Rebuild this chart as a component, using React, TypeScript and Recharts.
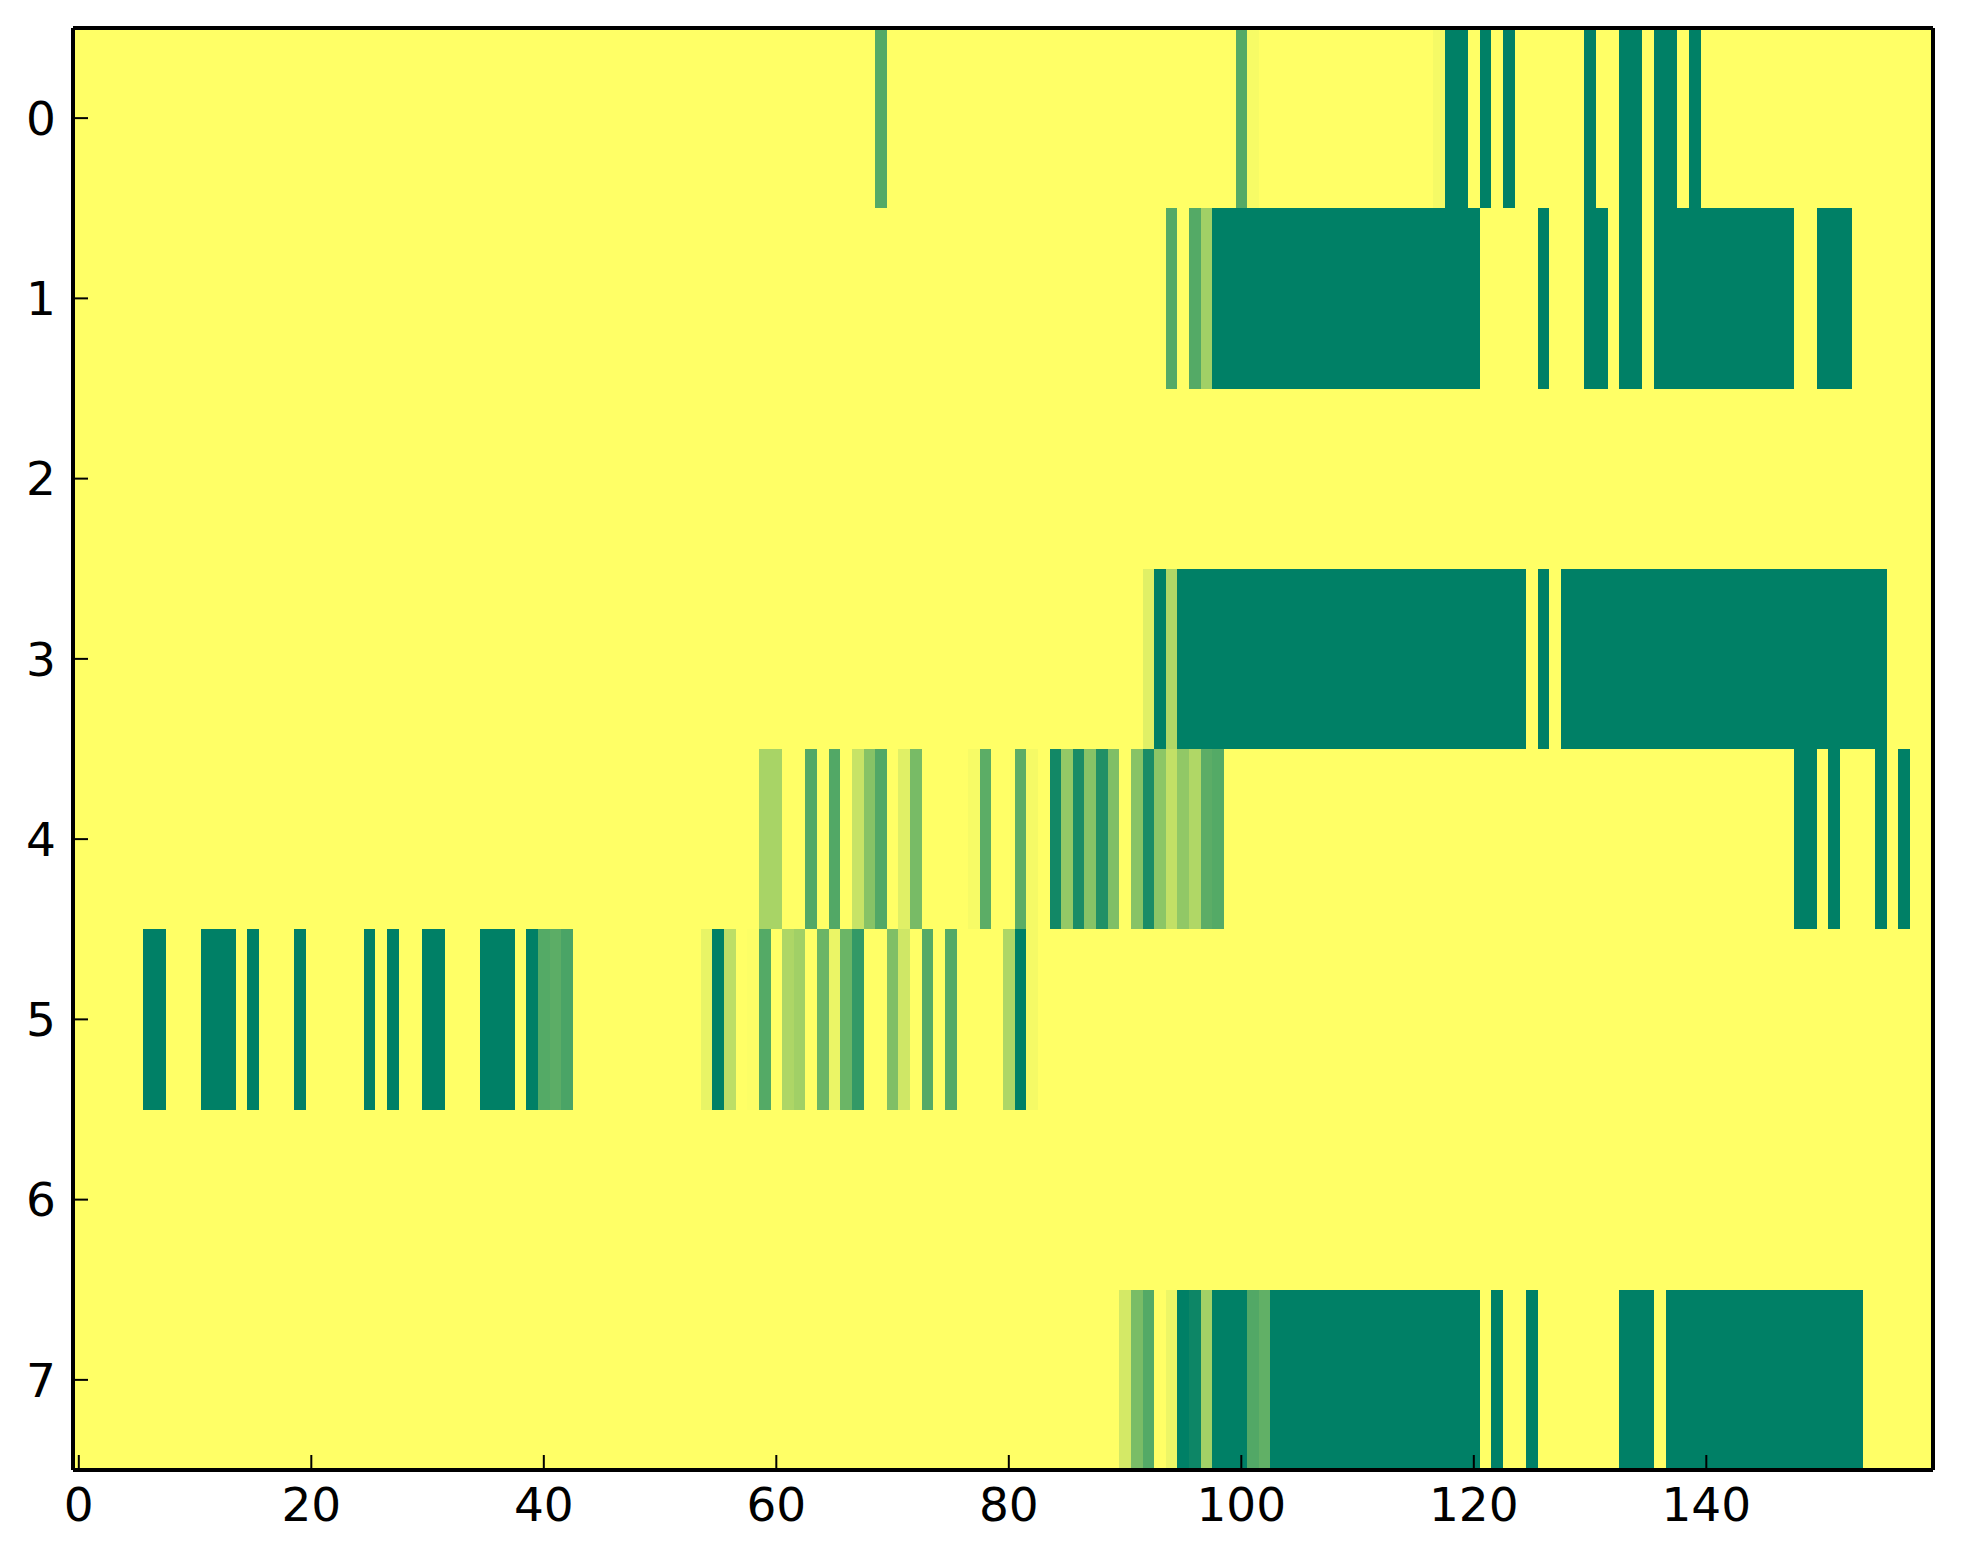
import React from 'react';
import {
  ReferenceArea,
  Scatter,
  ScatterChart,
  XAxis,
  YAxis,
} from 'recharts';

// runs of non-yellow cells per row: [firstColumn, lastColumn, value]
type Run = [number, number, number];

const columnCount = 160;
const rowCount = 8;
const xTicks = [0, 20, 40, 60, 80, 100, 120, 140];
const yTicks = [0, 1, 2, 3, 4, 5, 6, 7];

const row0: Run[] = [
  [69, 69, 0.33], [100, 100, 0.33], [101, 101, 0.97], [117, 117, 0.96],
  [118, 119, 0], [121, 121, 0], [123, 123, 0], [130, 130, 0],
  [133, 134, 0], [136, 137, 0], [139, 139, 0],
];
const row1: Run[] = [
  [94, 94, 0.33], [96, 96, 0.33], [97, 97, 0.63], [98, 120, 0],
  [126, 126, 0], [130, 131, 0], [133, 134, 0], [136, 147, 0], [150, 152, 0],
];
const row2: Run[] = [];
const row3: Run[] = [
  [92, 92, 0.88], [93, 93, 0], [94, 94, 0.69], [95, 124, 0],
  [126, 126, 0], [128, 155, 0],
];
const row4: Run[] = [
  [59, 60, 0.66], [63, 63, 0.32], [65, 65, 0.32], [67, 67, 0.78],
  [68, 68, 0.53], [69, 69, 0.32], [71, 71, 0.88], [72, 72, 0.47],
  [77, 77, 0.97], [78, 78, 0.36], [81, 81, 0.36], [82, 82, 0.96],
  [84, 84, 0.07], [85, 85, 0.58], [86, 86, 0.1], [87, 87, 0.53],
  [88, 88, 0.13], [89, 89, 0.5], [91, 91, 0.53], [92, 92, 0.1],
  [93, 93, 0.55], [94, 94, 0.76], [95, 95, 0.57], [96, 96, 0.69],
  [97, 97, 0.36], [98, 98, 0.33], [148, 149, 0], [151, 151, 0],
  [155, 155, 0], [157, 157, 0],
];
const row5: Run[] = [
  [6, 7, 0], [11, 13, 0], [15, 15, 0], [19, 19, 0], [25, 25, 0],
  [27, 27, 0], [30, 31, 0], [35, 37, 0], [39, 39, 0], [40, 40, 0.33],
  [41, 41, 0.36], [42, 42, 0.29], [54, 54, 0.91], [55, 55, 0],
  [56, 56, 0.74], [58, 58, 0.99], [59, 59, 0.33], [61, 61, 0.68],
  [62, 62, 0.63], [64, 64, 0.42], [65, 65, 0.92], [66, 66, 0.42],
  [67, 67, 0.2], [70, 70, 0.5], [71, 71, 0.81], [73, 73, 0.33],
  [75, 75, 0.33], [80, 80, 0.68], [81, 81, 0], [82, 82, 0.96],
];
const row6: Run[] = [];
const row7: Run[] = [
  [90, 90, 0.83], [91, 91, 0.48], [92, 92, 0.33], [94, 94, 0.93],
  [95, 95, 0], [96, 96, 0.05], [97, 97, 0.64], [98, 100, 0],
  [101, 101, 0.32], [102, 102, 0.38], [103, 120, 0], [122, 122, 0],
  [125, 125, 0], [133, 135, 0], [137, 153, 0],
];

const rows = [row0, row1, row2, row3, row4, row5, row6, row7];

// matplotlib "summer" colormap
const summer = (v: number) =>
  `rgb(${Math.round(255 * v)}, ${Math.round(127.5 + 127.5 * v)}, 102)`;

const cells = rows.flatMap((runs, r) =>
  runs.map(([a, b, v]) => ({ r, a, b, v, x: (a + b) / 2, y: r })),
);

const xDomain = [-0.5, columnCount - 0.5];
const yDomain = [-0.5, rowCount - 0.5];

const font = { fill: '#000', fontSize: 47, fontFamily: 'DejaVu Sans' };
const spine = { stroke: '#000', strokeWidth: 4 };
const tickMark = { stroke: '#000', strokeWidth: 2 };

const CellRect = (props: any) => (
  <rect
    x={props.x}
    y={props.y}
    width={props.width}
    height={props.height}
    fill={props.fill}
    shapeRendering='crispEdges'
  />
);

export default function App() {
  return (
    <div style={{ position: 'absolute', left: 0, top: 0, background: '#fff' }}>
      <ScatterChart
        width={1963}
        height={1564}
        margin={{ top: 18, right: 20, bottom: 34, left: 13 }}
      >
        <XAxis
          xAxisId={0}
          type='number'
          dataKey='x'
          domain={xDomain}
          ticks={xTicks}
          allowDataOverflow
          height={60}
          tick={font}
          tickSize={-15}
          tickMargin={33}
          tickLine={tickMark}
          axisLine={spine}
        />
        <XAxis
          xAxisId='top'
          orientation='top'
          type='number'
          dataKey='x'
          domain={xDomain}
          ticks={xTicks}
          allowDataOverflow
          height={10}
          tick={false}
          tickSize={-15}
          tickLine={tickMark}
          axisLine={spine}
        />
        <YAxis
          yAxisId={0}
          type='number'
          dataKey='y'
          domain={yDomain}
          ticks={yTicks}
          reversed
          allowDataOverflow
          width={60}
          tick={font}
          tickSize={-15}
          tickMargin={32}
          tickLine={tickMark}
          axisLine={spine}
        />
        <YAxis
          yAxisId='right'
          orientation='right'
          type='number'
          dataKey='y'
          domain={yDomain}
          ticks={yTicks}
          reversed
          allowDataOverflow
          width={10}
          tick={false}
          tickSize={-15}
          tickLine={tickMark}
          axisLine={spine}
        />
        <ReferenceArea
          xAxisId={0}
          yAxisId={0}
          x1={xDomain[0]}
          x2={xDomain[1]}
          y1={yDomain[0]}
          y2={yDomain[1]}
          fill={summer(1)}
          fillOpacity={1}
          stroke='none'
          shape={CellRect}
        />
        {cells.map((c, i) => (
          <ReferenceArea
            key={i}
            xAxisId={0}
            yAxisId={0}
            x1={c.a - 0.5}
            x2={c.b + 0.5}
            y1={c.r - 0.5}
            y2={c.r + 0.5}
            fill={summer(c.v)}
            fillOpacity={1}
            stroke='none'
            shape={CellRect}
          />
        ))}
        <Scatter
          xAxisId={0}
          yAxisId={0}
          data={cells}
          isAnimationActive={false}
          shape={() => <g />}
        />
        <Scatter
          xAxisId='top'
          yAxisId='right'
          data={cells}
          isAnimationActive={false}
          shape={() => <g />}
        />
      </ScatterChart>
    </div>
  );
}
